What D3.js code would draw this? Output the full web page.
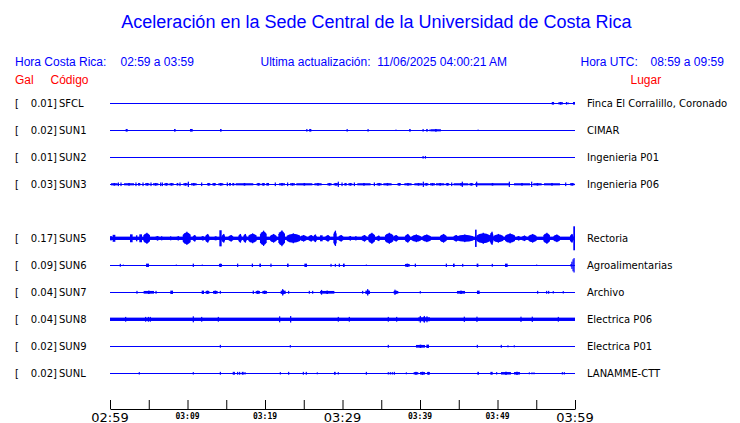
<!DOCTYPE html>
<html><head><meta charset="utf-8">
<script src="https://cdn.jsdelivr.net/npm/d3@7"></script>
<style>body{margin:0;background:#fff}svg{display:block}</style>
</head><body>
<svg id="c" width="740" height="423"></svg>
<script>
// ---------- data ----------
const codes  = ["SFCL","SUN1","SUN2","SUN3",null,"SUN5","SUN6","SUN7","SUN8","SUN9","SUNL"];
const galMax = [0.01,0.02,0.01,0.03,null,0.17,0.09,0.04,0.04,0.02,0.02];
const places = ["Finca El Corralillo, Coronado","CIMAR","Ingenieria P01","Ingenieria P06",null,
                "Rectoria","Agroalimentarias","Archivo","Electrica P06","Electrica P01","LANAMME-CTT"];
// continuous noise level (relative amplitude, 1 = largest peak)
const noise  = [0,0,0,0,null,0.14,0,0,0.14,0,0];
const tickMinutes = [0,5,10,15,20,25,30,35,40,45,50,55,60];
const tickLabels  = [[0,"02:59"],[10,"03:09"],[20,"03:19"],[30,"03:29"],[40,"03:39"],[50,"03:49"],[60,"03:59"]];
// bursts: [start minute, end minute, relative half amplitude]
const bSFCL = [[57.0,57.3,.11],[57.85,58.45,.11],[58.9,58.9,.11],[59.1,59.1,.08],[59.74,60,.11]];
const bSUN1 = [[2.02,2.28,.11],[8.26,8.47,.11],[10.32,10.67,.11],[14.2,14.4,.11],[25.4,25.4,.11],[25.7,25.98,.11],
  [30.6,30.6,.11],[33.3,33.3,.11],[36.9,36.9,.06],[38.6,38.8,.11],[40.4,40.4,.11],[40.8,41.0,.11],[41.3,41.3,.08],
  [41.4,42.7,.11],[47.5,47.5,.06]];
const bSUN2 = [[40.4,40.5,.11],[40.7,40.85,.11]];
const bSUN3 = [[0.13,0.99,.11],[1.81,3.10,.11],[3.61,3.91,.11],[4.52,5.08,.11],[5.55,6.24,.11],[7.01,7.53,.11],
  [7.66,8.22,.11],[8.60,8.82,.11],[9.46,10.02,.11],[10.45,11.18,.11],[12.52,12.95,.11],[13.20,13.68,.11],
  [13.98,14.62,.11],[15.35,15.61,.11],[15.78,16.04,.11],[16.22,18.49,.11],[18.92,19.40,.11],[19.57,20.00,.11],
  [20.17,20.52,.11],[21.81,22.58,.11],[23.23,23.87,.11],[24.04,26.11,.11],[26.37,27.31,.11],[28.04,28.60,.11],
  [28.86,29.46,.11],[30.24,30.54,.11],[30.75,31.27,.11],[31.91,33.63,.11],[34.41,35.05,.11],[35.27,36.34,.11],
  [37.08,37.55,.11],[37.98,38.92,.11],[39.27,40.34,.11],[40.56,41.08,.11],[41.29,41.94,.11],[42.06,43.14,.11],
  [43.31,43.78,.11],[44.34,46.24,.11],[46.37,46.88,.11],[47.10,51.61,.11],[52.13,54.19,.11],[54.62,55.70,.11],
  [56.00,58.06,.11],[59.35,59.91,.11],
  [1.08,1.08,.15],[1.42,1.42,.15],[3.35,3.35,.15],[4.26,4.26,.15],[5.29,5.29,.15],[6.54,6.54,.15],[6.75,6.75,.15],
  [9.03,9.03,.15],[10.11,10.11,.22],[11.83,11.83,.15],[15.14,15.14,.15],[21.33,21.33,.15],[22.92,22.92,.15],
  [29.46,29.46,.22],[29.94,29.94,.15],[31.53,31.53,.15],[34.11,34.11,.15],[40.43,40.43,.22],[44.09,44.09,.15],
  [45.46,45.46,.22],[47.31,47.31,.22],[51.53,51.53,.22],[54.41,54.41,.22],[58.80,58.80,.15]];
const bSUN5 = [[0,0.26,.17],[0.34,0.69,.29],[2.58,2.92,.33],[3.35,3.53,.25],[3.78,4.13,.33],[4.30,5.16,.42],
  [5.81,6.37,.17],[6.58,6.75,.17],[7.83,7.96,.17],[8.52,9.03,.16],[9.38,10.41,.5],[10.67,11.10,.25],[11.74,12.13,.17],
  [12.30,12.82,.33],[13.51,13.76,.17],[14.11,14.41,.67],[14.41,14.84,.33],[15.27,15.91,.25],[16.56,16.99,.33],
  [17.20,17.63,.33],[17.85,18.92,.375],[19.35,20.22,.58],[20.65,21.51,.33],[21.72,22.58,.6],[22.80,24.52,.375],
  [24.52,25.38,.25],[25.59,26.24,.25],[26.24,26.67,.29],[27.10,27.44,.25],[27.78,28.39,.25],[28.82,29.25,.58],
  [29.46,30.11,.25],[30.75,31.18,.17],[31.61,31.83,.17],[32.47,33.12,.25],[33.33,34.19,.42],[34.41,34.84,.21],
  [35.48,36.56,.42],[36.56,37.20,.25],[38.06,38.71,.33],[38.92,40.11,.29],[40.32,41.40,.29],[42.58,43.44,.33],
  [44.30,44.95,.25],[44.73,46.88,.29],[47.10,47.31,.72],[47.31,49.03,.42],[49.03,49.46,.5],[49.46,50.75,.33],
  [50.97,52.26,.375],[52.47,52.90,.17],[53.12,53.76,.21],[53.98,55.05,.33],[55.91,56.77,.42],[57.20,58.06,.29],
  [59.35,59.78,.33],[59.78,60,1.0]];
const bSUN6 = [[1.33,1.33,.12],[1.72,1.72,.06],[4.65,5.03,.14],[8.56,8.56,.06],[10.75,10.75,.14],[11.91,11.91,.06],
  [14.06,14.45,.14],[16.47,16.47,.14],[18.37,18.37,.14],[19.27,19.48,.14],[20.77,20.77,.14],[22.84,23.05,.14],
  [25.08,25.42,.14],[28.52,28.52,.12],[29.08,29.08,.12],[29.59,29.59,.14],[30.06,30.28,.14],[33.08,33.08,.06],
  [38.06,38.67,.14],[39.40,39.40,.14],[43.40,43.40,.14],[44.26,44.47,.14],[45.51,45.51,.12],[47.31,47.53,.14],
  [49.33,49.33,.12],[50.97,51.31,.14],[55.05,55.05,.06],
  [59.40,59.6,.1],[59.6,59.75,.3],[59.75,59.88,.5],[59.88,60,.6]];
const bSUN7 = [[3.48,3.48,.12],[4.34,5.68,.14],[5.94,5.94,.12],[7.78,8.13,.14],[11.83,12.13,.14],[12.34,12.82,.14],
  [13.29,13.89,.14],[14.24,14.24,.12],[18.49,18.62,.14],[18.80,19.35,.14],[19.66,20.26,.14],[22.02,22.67,.17],
  [22.28,22.28,.27],[23.05,23.05,.12],[25.72,25.72,.12],[26.15,26.15,.12],[27.10,28.95,.14],[27.3,27.3,.2],
  [32.60,32.60,.12],[32.95,33.55,.17],[33.25,33.25,.27],[36.60,37.20,.14],[36.77,36.77,.22],[40.04,40.04,.1],
  [44.77,45.81,.14],[47.35,47.70,.14],[55.18,55.18,.12],[56.34,56.34,.12],[56.60,56.60,.12],[57.20,57.20,.1],
  [58.49,58.49,.1]];
const bSUN8 = [[2.02,2.02,.2],[4.60,4.60,.2],[4.95,4.95,.2],[5.20,5.20,.2],[10.75,10.75,.25],[11.83,11.83,.2],
  [13.98,13.98,.2],[21.89,21.89,.25],[23.31,23.31,.27],[29.46,29.46,.2],[30.88,30.88,.2],[35.91,35.91,.2],
  [36.99,36.99,.2],[39.78,41.29,.2],[40.04,40.04,.28],[40.56,40.56,.28],[40.90,40.90,.25],[45.72,45.72,.22],
  [47.35,47.35,.22],[53.03,53.03,.22],[54.49,54.49,.22],[57.85,57.85,.2]];
const bSUN9 = [[14.24,14.24,.12],[23.27,23.27,.1],[35.91,35.91,.12],[39.48,40.65,.14],[40.82,41.16,.14],
  [47.40,47.40,.12],[50.49,50.49,.12],[51.35,51.35,.08],[52.17,52.17,.08]];
const bSUNL = [[3.78,3.78,.1],[10.75,10.75,.1],[14.24,14.24,.12],[15.91,15.91,.12],[16.04,16.04,.12],
  [16.47,16.47,.12],[16.73,16.73,.12],[17.0,17.25,.12],[17.42,17.42,.1],[21.98,21.98,.1],[23.05,23.05,.12],
  [24.95,24.95,.12],[25.33,25.33,.12],[26.75,26.75,.08],[28.90,29.12,.12],[29.46,29.46,.1],[33.08,33.08,.12],
  [35.91,35.91,.1],[36.17,36.17,.1],[36.43,36.43,.1],[36.69,36.69,.12],[38.24,38.24,.08],[39.18,39.78,.12],
  [40.0,40.65,.13],[40.90,41.29,.12],[47.40,47.61,.12],[49.08,49.38,.12],[49.89,49.89,.1],[50.45,51.74,.13],
  [52.13,52.90,.13],[54.11,54.11,.08],[54.45,54.45,.08],[54.71,54.71,.08],[58.37,58.37,.1],[58.62,58.62,.1]];
const bursts = [bSFCL,bSUN1,bSUN2,bSUN3,null,bSUN5,bSUN6,bSUN7,bSUN8,bSUN9,bSUNL];

// ---------- drawing ----------
const svg = d3.select("#c");
const BLUE = "#0000ff", RED = "#ff0000";
const x = d3.scaleLinear().domain([0,60]).range([110,575]);
const y = d3.scalePoint().domain(d3.range(codes.length)).range([103.3,373.3]);
const amp = d3.scaleLinear().domain([0,1]).range([0,12]);

svg.append("text").attr("x",376.5).attr("y",28).attr("text-anchor","middle")
  .attr("font-family","Liberation Sans, Arial, sans-serif").attr("font-size",18).attr("fill",BLUE)
  .text("Aceleración en la Sede Central de la Universidad de Costa Rica");

const hdr = [[15,"Hora Costa Rica:"],[120.5,"02:59 a 03:59"],[260.5,"Ultima actualización:  11/06/2025 04:00:21 AM"],
             [580.5,"Hora UTC:"],[650.5,"08:59 a 09:59"]];
svg.selectAll("text.hdr").data(hdr).join("text").attr("class","hdr")
  .attr("x",d=>d[0]).attr("y",65.5)
  .attr("font-family","Liberation Sans, Arial, sans-serif").attr("font-size",12).attr("fill",BLUE)
  .style("white-space","pre").text(d=>d[1]);
const red = [[15,"Gal"],[50.5,"Código"],[630.5,"Lugar"]];
svg.selectAll("text.red").data(red).join("text").attr("class","red")
  .attr("x",d=>d[0]).attr("y",84).attr("font-family","Liberation Sans, Arial, sans-serif")
  .attr("font-size",12).attr("fill",RED).text(d=>d[1]);

const rows = d3.range(codes.length).filter(i=>codes[i]!==null);
const lab = {"font-family":"DejaVu Sans, sans-serif","font-size":10,"fill":"#000"};
function applyAttrs(sel,o){for(const k in o) sel.attr(k,o[k]); return sel;}
// envelope outline of a burst (shape factors are styling only)
const prof = [[0,.55],[.2,.85],[.5,1],[.75,.9],[1,.6]];
const env = d3.area().x(d=>d[0]).y0(d=>d[1]).y1(d=>d[2]).curve(d3.curveLinear);
rows.forEach(i=>{
  const cy = y(i);
  const g = svg.append("g");
  applyAttrs(g.append("text").attr("x",15).attr("y",cy+3.8).text("["),lab);
  applyAttrs(g.append("text").attr("x",57).attr("y",cy+3.8).attr("text-anchor","end").text(galMax[i].toFixed(2)+"]"),lab);
  applyAttrs(g.append("text").attr("x",59).attr("y",cy+3.8).text(codes[i]),lab);
  applyAttrs(g.append("text").attr("x",587).attr("y",cy+3.8).text(places[i]),lab);
  g.append("line").attr("x1",x(0)).attr("x2",x(60)).attr("y1",cy).attr("y2",cy)
    .attr("stroke",BLUE).attr("stroke-width",1).attr("shape-rendering","crispEdges");
  if (noise[i]>0) {
    g.append("rect").attr("x",x(0)).attr("width",x(60)-x(0))
      .attr("y",cy-amp(noise[i])).attr("height",2*amp(noise[i])).attr("fill",BLUE);
  }
  const spindle = noise[i]>0 && i===5;
  bursts[i].forEach(b=>{
    const x0 = x(b[0]), x1 = x(b[1]), w = Math.max(1.2, x1-x0), a = amp(b[2]);
    if (spindle && w > 3) {
      const pts = prof.map(p=>[x0+p[0]*w, cy-a*p[1], cy+a*p[1]]);
      g.append("path").attr("d",env(pts)).attr("fill",BLUE);
      g.append("rect").attr("x",x0+w*0.45).attr("width",1.2).attr("y",cy-a*1.1).attr("height",2.2*a).attr("fill",BLUE);
    } else if (w > 3) {
      g.append("rect").attr("x",x0).attr("width",w).attr("y",cy-a*0.8).attr("height",a*1.6).attr("fill",BLUE);
      g.append("rect").attr("x",(x0+x1)/2-0.8).attr("width",1.6).attr("y",cy-a).attr("height",2*a).attr("fill",BLUE);
    } else {
      g.append("rect").attr("x",x0-(w>1.2?0:0.6)).attr("width",w).attr("y",cy-a).attr("height",2*a).attr("fill",BLUE);
    }
  });
});

// time axis
const ax = svg.append("g").attr("transform","translate(0,409)")
  .call(d3.axisTop(x).tickValues(tickMinutes).tickSize(9).tickSizeOuter(0).tickFormat(""));
ax.select(".domain").attr("stroke","#000");
ax.selectAll(".tick line").attr("stroke","#000");
svg.selectAll("text.tl").data(tickLabels).join("text").attr("class","tl")
  .attr("x",d=>x(d[0])).attr("text-anchor","middle")
  .attr("y",d=>d[0]%30===0?421.5:419)
  .attr("font-family",d=>d[0]%30===0?"DejaVu Sans, sans-serif":"DejaVu Sans Mono, monospace")
  .attr("font-weight",d=>d[0]%30===0?"normal":"bold")
  .attr("font-size",d=>d[0]%30===0?13:8)
  .attr("fill","#000").text(d=>d[1]);
</script>
</body></html>
